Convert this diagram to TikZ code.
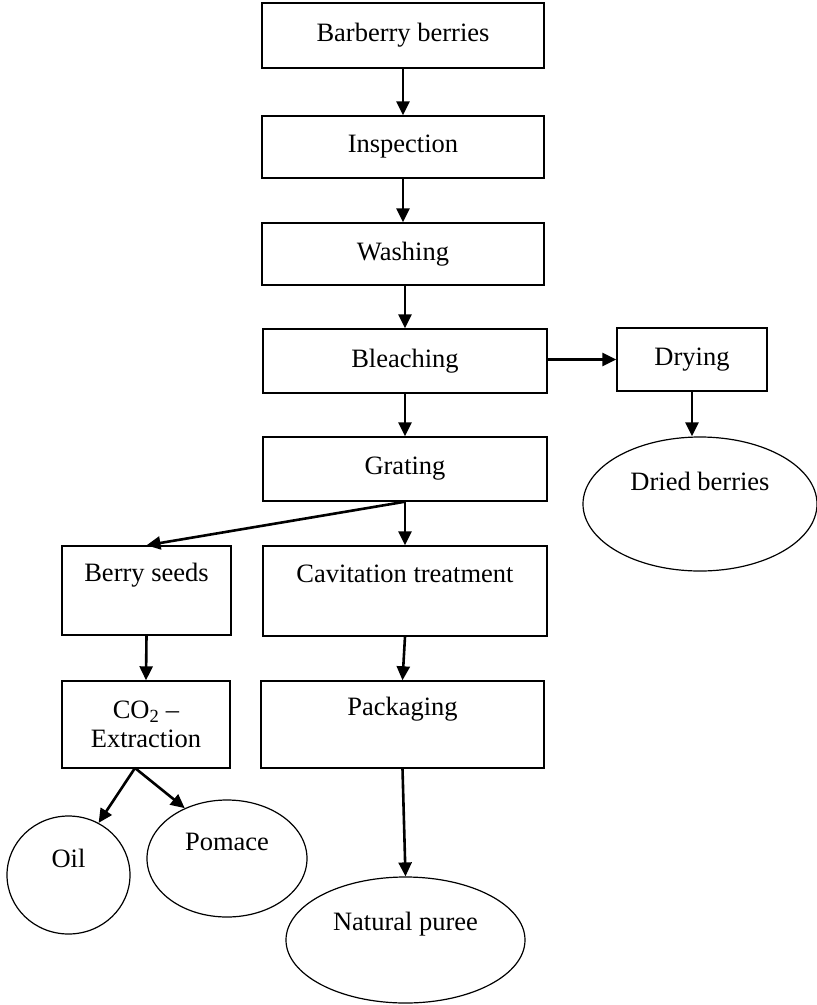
\documentclass[tikz,border=0pt]{standalone}
\usepackage{fontspec}
\setmainfont{Liberation Serif}
\usetikzlibrary{arrows.meta,shapes.geometric}

\begin{document}
\begin{tikzpicture}[x=1pt, y=-1pt,
  txtfont/.style={font=\fontsize{26.5}{29}\selectfont},
  stepbox/.style={draw, rectangle, line width=1.4pt, inner sep=0pt, txtfont, align=center},
  product/.style={draw, ellipse, line width=1.2pt, inner sep=0pt, txtfont, align=center},
  upper/.style={text height=18pt, text depth=#1},
  flow/.style={line width=2.6pt, -{Triangle[length=14pt, width=13pt]}}
]
  % canvas
  \fill[white] (0,0) rectangle (817,1005);
  \useasboundingbox (0,0) rectangle (817,1005);

  % main processing line
  \node[stepbox, minimum width=282pt, minimum height=65pt] (bar)    at (403,35.5)  {Barberry berries};
  \node[stepbox, minimum width=282pt, minimum height=62pt] (insp)   at (403,147)   {Inspection};
  \node[stepbox, minimum width=282pt, minimum height=62pt] (wash)   at (403,254)   {Washing};
  \node[stepbox, minimum width=284pt, minimum height=64pt] (bleach) at (405,361)   {Bleaching};
  \node[stepbox, minimum width=284pt, minimum height=64pt] (grat)   at (405,469)   {Grating};
  \node[stepbox, minimum width=284pt, minimum height=90pt, upper=36pt] (cav)  at (405,591)   {Cavitation treatment};
  \node[stepbox, minimum width=283pt, minimum height=87pt, upper=36pt] (pack) at (402.5,724.5) {Packaging};
  \node[product, minimum width=239pt, minimum height=126pt, upper=37pt] (puree) at (405.5,940) {Natural puree};

  % drying branch
  \node[stepbox, minimum width=150pt, minimum height=63pt] (dry) at (692,359.5) {Drying};
  \node[product, minimum width=234pt, minimum height=134pt, upper=45pt] (dried) at (700,504) {Dried berries};

  % seed branch
  \node[stepbox, minimum width=169pt, minimum height=89pt, upper=36pt] (seeds) at (146.5,590.5) {Berry seeds};
  \node[stepbox, minimum width=168pt, minimum height=87pt] (co2) at (146,724.5) {CO\textsubscript{2} –\\Extraction};
  \node[product, minimum width=123pt, minimum height=118pt, upper=33pt] (oil) at (68.5,875) {Oil};
  \node[product, minimum width=160pt, minimum height=117pt, upper=34pt] (pomace) at (227,858.5) {Pomace};
  \coordinate (split) at (135,768);

  % connectors
  \draw[flow] (bar.south) -- (insp.north);
  \draw[flow] (insp.south) -- (wash.north);
  \draw[flow] (bleach.north |- wash.south) -- (bleach.north);
  \draw[flow] (bleach.south) -- (grat.north);
  \draw[flow] (bleach.east |- dry.west) -- (dry.west);
  \draw[flow] (dry.south) -- (dried.north -| dry.south);
  \draw[flow] (grat.south) -- (seeds.north);
  \draw[flow] (grat.south) -- (cav.north);
  \draw[flow] (cav.south) -- (pack.north);
  \draw[flow] (pack.south) -- (puree.north);
  \draw[flow] (seeds.south) -- (co2.north);
  \draw[flow] (split) -- (oil.60);
  \draw[flow] (split) -- (pomace.130);
\end{tikzpicture}
\end{document}
